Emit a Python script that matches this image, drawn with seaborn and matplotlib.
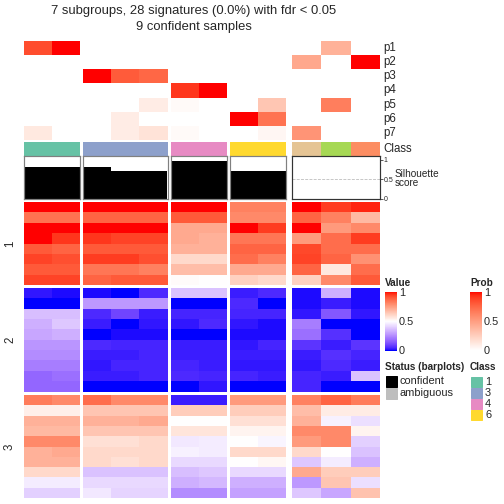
import numpy as np
import matplotlib
matplotlib.use("Agg")
import matplotlib.pyplot as plt
import seaborn as sns
from matplotlib.colors import ListedColormap, Normalize, to_rgb
from matplotlib.cm import ScalarMappable
from matplotlib.patches import Rectangle

# --- data ---
SAMPLE_CLASS = [1, 1, 3, 3, 3, 4, 4, 6, 6, 7, 5, 2]
CLASS_COLORS = ["#66C2A5", "#FC8D62", "#8DA0CB", "#E78AC3",
                "#A6D854", "#FFD92F", "#E5C494"]  # classes 1..7
LEGEND_CLASSES = [1, 3, 4, 6]
COLUMN_GROUPS = [[0, 1], [2, 3, 4], [5, 6], [7, 8], [9, 10, 11]]
SILHOUETTE = [0.81, 0.81, 0.81, 0.70, 0.70, 0.97, 0.97, 0.70, 0.70, 0, 0, 0]

PROB_LABELS = ["p1", "p2", "p3", "p4", "p5", "p6", "p7"]
PROB = [
    [0.85, 1.00, 0, 0, 0, 0, 0, 0, 0, 0, 0.40, 0],
    [0, 0, 0, 0, 0, 0, 0, 0, 0, 0.45, 0, 1.00],
    [0, 0, 1.00, 0.80, 0.75, 0, 0, 0, 0, 0, 0, 0],
    [0, 0, 0, 0, 0, 0.92, 1.00, 0, 0, 0, 0, 0],
    [0, 0, 0, 0, 0.10, 0.03, 0, 0, 0.30, 0, 0.65, 0],
    [0, 0, 0, 0.10, 0, 0, 0, 1.00, 0.70, 0, 0, 0],
    [0.12, 0, 0, 0.10, 0.15, 0.03, 0, 0, 0.05, 0.55, 0, 0],
]

ROW_GROUP_LABELS = ["1", "2", "3"]
VALUES_1 = [
    [1.00, 1.00, 1.00, 1.00, 1.00, 1.00, 1.00, 0.82, 0.82, 1.00, 0.95, 0.98],
    [0.85, 0.85, 0.88, 0.88, 0.88, 0.90, 0.90, 0.80, 0.80, 0.88, 0.82, 0.68],
    [1.00, 1.00, 1.00, 1.00, 1.00, 0.72, 0.72, 1.00, 0.95, 1.00, 0.76, 0.80],
    [1.00, 0.96, 0.96, 0.94, 0.94, 0.72, 0.70, 0.84, 0.84, 0.76, 0.86, 0.95],
    [0.90, 0.88, 0.90, 0.90, 0.90, 0.70, 0.70, 0.88, 0.88, 0.93, 0.86, 0.86],
    [0.94, 0.92, 0.95, 0.95, 0.92, 0.60, 0.60, 0.86, 0.82, 0.94, 0.88, 0.78],
    [0.90, 0.90, 0.84, 0.84, 0.82, 0.67, 0.67, 0.72, 0.72, 0.88, 0.56, 0.86],
    [0.94, 0.94, 0.88, 0.90, 0.90, 0.51, 0.50, 0.62, 0.60, 0.62, 0.80, 0.90],
]
VALUES_2 = [
    [0.02, 0.01, 0.01, 0.00, 0.05, 0.37, 0.37, 0.03, 0.05, 0.01, 0.33, 0.01],
    [0.00, 0.00, 0.28, 0.28, 0.28, 0.00, 0.00, 0.05, 0.00, 0.01, 0.03, 0.01],
    [0.36, 0.36, 0.05, 0.10, 0.03, 0.04, 0.04, 0.04, 0.04, 0.02, 0.14, 0.02],
    [0.33, 0.38, 0.03, 0.00, 0.02, 0.02, 0.05, 0.02, 0.01, 0.22, 0.00, 0.00],
    [0.31, 0.33, 0.00, 0.01, 0.01, 0.00, 0.00, 0.01, 0.01, 0.19, 0.06, 0.00],
    [0.27, 0.27, 0.05, 0.04, 0.04, 0.03, 0.03, 0.02, 0.04, 0.07, 0.03, 0.07],
    [0.25, 0.25, 0.03, 0.03, 0.04, 0.03, 0.03, 0.03, 0.03, 0.03, 0.06, 0.04],
    [0.22, 0.22, 0.02, 0.04, 0.04, 0.04, 0.03, 0.02, 0.02, 0.02, 0.05, 0.03],
    [0.17, 0.19, 0.03, 0.03, 0.04, 0.05, 0.04, 0.04, 0.03, 0.04, 0.03, 0.37],
    [0.17, 0.17, 0.00, 0.00, 0.00, 0.00, 0.02, 0.00, 0.00, 0.04, 0.00, 0.00],
]
VALUES_3 = [
    [0.83, 0.80, 0.86, 0.80, 0.80, 0.03, 0.03, 0.76, 0.76, 0.82, 0.88, 0.83],
    [0.54, 0.54, 0.65, 0.65, 0.65, 0.63, 0.63, 0.63, 0.63, 0.67, 0.55, 0.55],
    [0.70, 0.70, 0.70, 0.70, 0.72, 0.50, 0.50, 0.58, 0.58, 0.70, 0.47, 0.43],
    [0.68, 0.68, 0.65, 0.65, 0.65, 0.57, 0.57, 0.53, 0.53, 0.80, 0.80, 0.53],
    [0.80, 0.80, 0.58, 0.58, 0.60, 0.45, 0.46, 0.50, 0.48, 0.76, 0.80, 0.40],
    [0.70, 0.72, 0.60, 0.60, 0.60, 0.47, 0.46, 0.60, 0.60, 0.60, 0.50, 0.37],
    [0.70, 0.70, 0.60, 0.58, 0.60, 0.42, 0.42, 0.50, 0.52, 0.38, 0.46, 0.33],
    [0.60, 0.60, 0.37, 0.37, 0.37, 0.36, 0.38, 0.42, 0.42, 0.72, 0.63, 0.63],
    [0.46, 0.46, 0.42, 0.42, 0.42, 0.33, 0.35, 0.33, 0.33, 0.28, 0.65, 0.43],
    [0.40, 0.40, 0.45, 0.41, 0.41, 0.25, 0.25, 0.30, 0.30, 0.38, 0.31, 0.66],
]

TITLE = "7 subgroups, 28 signatures (0.0%) with fdr < 0.05\n9 confident samples"

# --- layout (pixels, 504x504 canvas) ---
W = H = 504
COL_X = [(24, 80), (83, 167.5), (171, 227), (230, 286), (292, 380)]
ROW_Y = [(202, 285), (288, 391.5), (395, 498)]
PROB_Y = (41, 140)
CLASS_Y = (141.7, 155.7)
SIL_Y = (156.3, 199.5)

# --- LAB colour ramps, like colorRamp2 ---
M = np.array([[0.4124, 0.3576, 0.1805],
              [0.2126, 0.7152, 0.0722],
              [0.0193, 0.1192, 0.9505]])
WHITE = np.array([0.95047, 1.0, 1.08883])


def srgb_to_lab(rgb):
    rgb = np.asarray(rgb, float)
    lin = np.where(rgb <= 0.04045, rgb / 12.92, ((rgb + 0.055) / 1.055) ** 2.4)
    t = (M @ lin) / WHITE
    f = np.where(t > 0.008856, np.cbrt(t), 7.787 * t + 16 / 116)
    return np.array([116 * f[1] - 16, 500 * (f[0] - f[1]), 200 * (f[1] - f[2])])


def lab_to_srgb(lab):
    L, a, b = lab
    fy = (L + 16) / 116
    f = np.array([fy + a / 500, fy, fy - b / 200])
    t = np.where(f ** 3 > 0.008856, f ** 3, (f - 16 / 116) / 7.787)
    lin = np.clip(np.linalg.solve(M, t * WHITE), 0, 1)
    rgb = np.where(lin <= 0.0031308, 12.92 * lin, 1.055 * lin ** (1 / 2.4) - 0.055)
    return np.clip(rgb, 0, 1)


def lab_ramp(breaks, colors, n=256):
    labs = [srgb_to_lab(to_rgb(c)) for c in colors]
    out = []
    for v in np.linspace(breaks[0], breaks[-1], n):
        i = min(np.searchsorted(breaks, v, side="right") - 1, len(breaks) - 2)
        t = (v - breaks[i]) / (breaks[i + 1] - breaks[i])
        out.append(lab_to_srgb((1 - t) * labs[i] + t * labs[i + 1]))
    return ListedColormap(out)


value_cmap = lab_ramp([0, 0.5, 1], ["blue", "white", "red"])
prob_cmap = lab_ramp([0, 1], ["white", "red"])
class_cmap = ListedColormap(CLASS_COLORS)

sns.set_theme(style="white")
plt.rcParams["font.family"] = ["Liberation Sans", "DejaVu Sans"]

fig = plt.figure(figsize=(7, 7), dpi=72)


def px_axes(x0, y0, x1, y1):
    return fig.add_axes([x0 / W, 1 - y1 / H, (x1 - x0) / W, (y1 - y0) / H])


values = [np.array(VALUES_1), np.array(VALUES_2), np.array(VALUES_3)]
prob = np.array(PROB)
classes = np.array(SAMPLE_CLASS)

for (x0, x1), cols in zip(COL_X, COLUMN_GROUPS):
    # membership probabilities
    ax = px_axes(x0, PROB_Y[0], x1, PROB_Y[1])
    sns.heatmap(prob[:, cols], ax=ax, cmap=prob_cmap, vmin=0, vmax=1,
                cbar=False, xticklabels=False, yticklabels=False)

    # class bar
    ax = px_axes(x0, CLASS_Y[0], x1, CLASS_Y[1])
    sns.heatmap(classes[cols][None, :], ax=ax, cmap=class_cmap, vmin=0.5,
                vmax=7.5, cbar=False, xticklabels=False, yticklabels=False)

    # silhouette barplot
    ax = px_axes(x0, SIL_Y[0], x1, SIL_Y[1])
    ax.axhline(0.5, color="#BBBBBB", ls="--", lw=0.8, zorder=0.5)
    sns.barplot(x=list(range(len(cols))), y=[SILHOUETTE[c] for c in cols],
                color="black", saturation=1, width=1, errorbar=None,
                linewidth=0, ax=ax)
    ax.set_xlim(-0.5, len(cols) - 0.5)
    ax.set_ylim(-0.013, 1.083)
    ax.set_xticks([])
    ax.set_yticks([])
    ax.set_xlabel("")
    ax.set_ylabel("")
    last = cols is COLUMN_GROUPS[-1]
    for sp in ax.spines.values():
        sp.set_visible(True)
        sp.set_color("#333333" if last else "#808080")
        sp.set_linewidth(1.2)
    if last:
        ax.yaxis.tick_right()
        ax.set_yticks([0, 0.5, 1])
        ax.set_yticklabels(["0", "0.5", "1"])
        ax.tick_params(axis="y", right=True, length=2.5, width=0.8,
                       color="#333333", labelsize=7, pad=1)

    # main heatmap blocks
    for (y0, y1), block in zip(ROW_Y, values):
        ax = px_axes(x0, y0, x1, y1)
        sns.heatmap(block[:, cols], ax=ax, cmap=value_cmap, vmin=0, vmax=1,
                    cbar=False, xticklabels=False, yticklabels=False)

# --- colour legends ---
for (x0, cmap) in [(385, value_cmap), (470, prob_cmap)]:
    cax = px_axes(x0, 292, x0 + 12, 350.5)
    cb = fig.colorbar(ScalarMappable(Normalize(0, 1), cmap), cax=cax,
                      ticks=[0, 0.5, 1])
    cb.outline.set_visible(False)
    cb.ax.set_yticklabels(["0", "0.5", "1"])
    cb.ax.tick_params(length=2, width=0.8, color="white", direction="in",
                      labelsize=11, pad=2)

# --- text and square legends on a pixel overlay ---
ov = fig.add_axes([0, 0, 1, 1])
ov.set_xlim(0, W)
ov.set_ylim(H, 0)
ov.axis("off")

ov.text(193.5, 19, TITLE, ha="center", va="center", fontsize=13,
        linespacing=1.35)

step = (PROB_Y[1] - PROB_Y[0]) / len(PROB_LABELS)
for i, lab in enumerate(PROB_LABELS):
    ov.text(383, PROB_Y[0] + step * (i + 0.5), lab, ha="left", va="center",
            fontsize=11.5)
ov.text(383, sum(CLASS_Y) / 2, "Class", ha="left", va="center", fontsize=11.5)
ov.text(395, 178.5, "Silhouette\nscore", ha="left", va="center", fontsize=10,
        linespacing=0.9)

for (y0, y1), lab in zip(ROW_Y, ROW_GROUP_LABELS):
    ov.text(10, (y0 + y1) / 2, lab, ha="center", va="center", rotation=90,
            fontsize=11.5)

ov.text(385, 283, "Value", ha="left", va="center", fontsize=10, weight="bold")
ov.text(470, 283, "Prob", ha="left", va="center", fontsize=10, weight="bold")
ov.text(385, 367, "Status (barplots)", ha="left", va="center", fontsize=10,
        weight="bold")
ov.text(470, 367, "Class", ha="left", va="center", fontsize=10, weight="bold")

for i, (lab, col) in enumerate([("confident", "black"), ("ambiguous", "#BEBEBE")]):
    y = 376 + 12 * i
    ov.add_patch(Rectangle((385.5, y), 11, 11, color=col))
    ov.text(400, y + 5.5, lab, ha="left", va="center", fontsize=11)

for i, c in enumerate(LEGEND_CLASSES):
    y = 376.5 + 11 * i
    ov.add_patch(Rectangle((471, y), 11, 10.5, color=CLASS_COLORS[c - 1]))
    ov.text(485, y + 5.5, str(c), ha="left", va="center", fontsize=11)

fig.savefig("out.png", dpi=72)
